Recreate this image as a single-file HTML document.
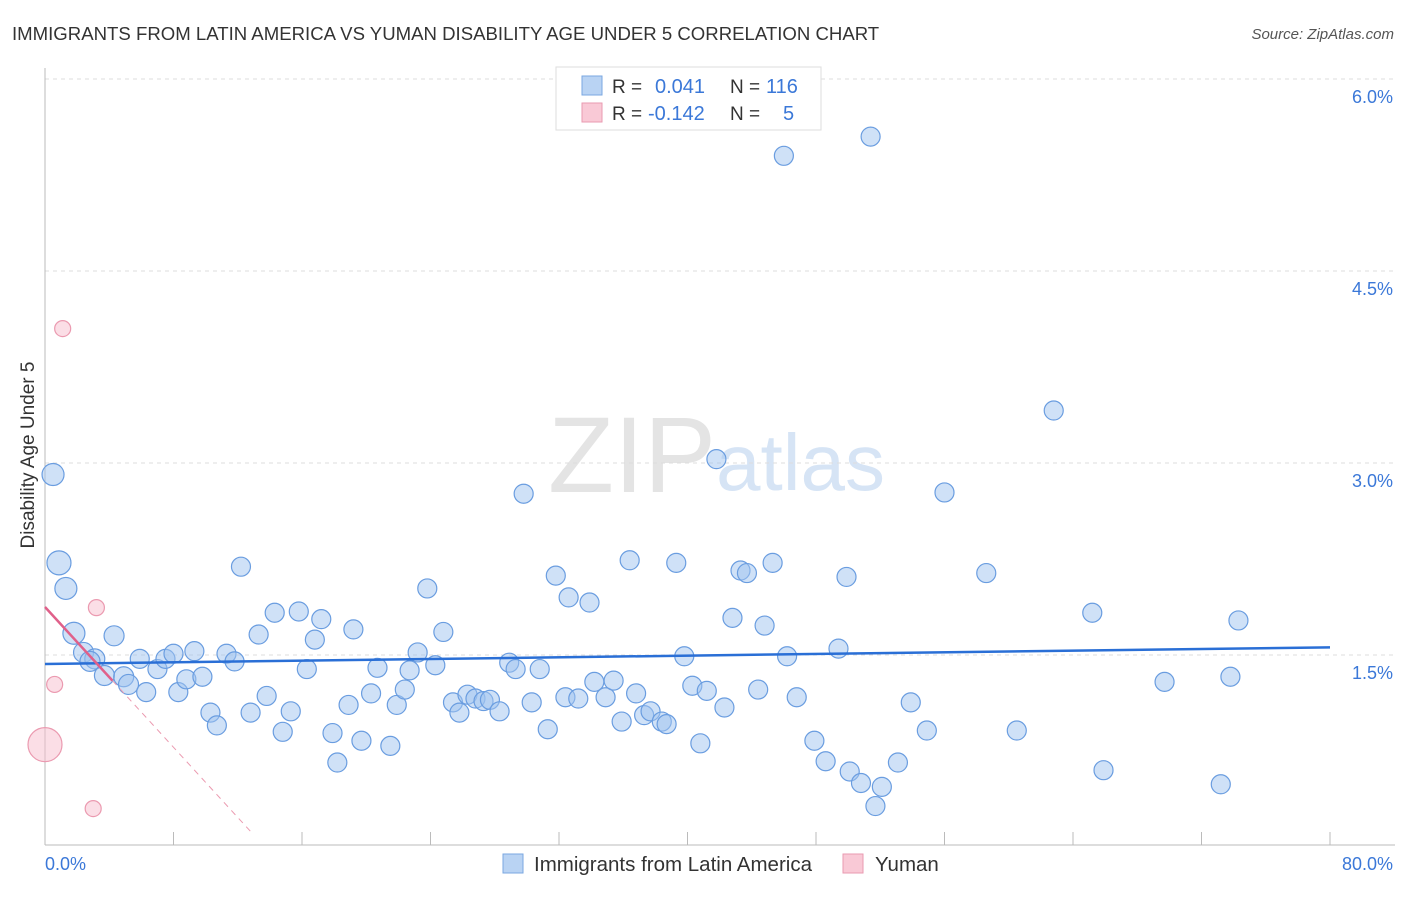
<!DOCTYPE html>
<html><head><meta charset="utf-8"><style>
body{margin:0;background:#fff;font-family:"Liberation Sans",sans-serif;}
svg text{font-family:"Liberation Sans",sans-serif;}
</style></head><body>
<svg width="1406" height="892" xmlns="http://www.w3.org/2000/svg" id="chart">
<text x="12" y="40" font-size="18.6" fill="#333">IMMIGRANTS FROM LATIN AMERICA VS YUMAN DISABILITY AGE UNDER 5 CORRELATION CHART</text>
<text x="1394" y="39" font-size="15" fill="#555" font-style="italic" text-anchor="end">Source: ZipAtlas.com</text>
<text x="716" y="492" font-size="108" fill="#e4e4e4" text-anchor="end" font-family="Liberation Serif">ZIP</text>
<text x="716" y="490" font-size="80" fill="#d6e4f5">atlas</text>
<g id="grid"></g>
<g id="axes"></g>
<g id="marks"></g>
<text x="34" y="455" font-size="19" fill="#333" transform="rotate(-90 34 455)" text-anchor="middle">Disability Age Under 5</text>
<g>
<rect x="556" y="67" width="265" height="63" fill="#fff" stroke="#ddd"/>
<rect x="582" y="76" width="20" height="19" fill="#b9d3f3" stroke="#7aa7e0"/>
<rect x="582" y="103" width="20" height="19" fill="#f9c9d6" stroke="#e99ab0"/>
<text x="612" y="93" font-size="19" fill="#333">R =</text><text x="655" y="93" font-size="20" fill="#3b78d8">0.041</text>
<text x="730" y="93" font-size="19" fill="#333">N =</text><text x="766" y="93" font-size="20" fill="#3b78d8">116</text>
<text x="612" y="120" font-size="19" fill="#333">R =</text><text x="648" y="120" font-size="20" fill="#3b78d8">-0.142</text>
<text x="730" y="120" font-size="19" fill="#333">N =</text><text x="783" y="120" font-size="20" fill="#3b78d8">5</text>
</g>
<g>
<rect x="503" y="854" width="20" height="19" fill="#b9d3f3" stroke="#7aa7e0"/>
<text x="534" y="871" font-size="20.5" fill="#333">Immigrants from Latin America</text>
<rect x="843" y="854" width="20" height="19" fill="#f9c9d6" stroke="#e99ab0"/>
<text x="875" y="871" font-size="20.5" fill="#333">Yuman</text>
</g>
</svg>
<script>
const blueX=[0.5,0.87,1.3,1.8,2.4,3.1,2.8,3.7,4.3,4.9,5.2,5.9,6.3,7.0,7.5,8.0,8.3,8.8,9.3,9.8,10.3,10.7,11.3,11.8,12.2,12.8,13.3,13.8,14.3,14.8,15.3,15.8,16.3,16.8,17.2,17.9,18.2,18.9,19.2,19.7,20.3,20.7,21.5,21.9,22.4,22.7,23.2,23.8,24.3,24.8,25.4,25.8,26.3,26.8,27.3,27.7,28.3,28.9,29.3,29.8,30.3,30.8,31.3,31.8,32.4,32.6,33.2,33.9,34.2,34.9,35.4,35.9,36.4,36.8,37.3,37.7,38.4,38.7,39.3,39.8,40.3,40.8,41.2,41.8,42.3,42.8,43.3,43.7,44.4,44.8,45.3,46.0,46.2,46.8,47.9,48.6,49.4,49.9,50.1,50.8,51.4,51.7,52.1,53.1,53.9,54.9,56.0,58.6,60.5,62.8,65.2,65.9,69.7,73.2,73.8,74.3];
const blueY=[2.91,2.22,2.02,1.67,1.52,1.47,1.45,1.34,1.65,1.33,1.27,1.47,1.21,1.39,1.47,1.51,1.21,1.31,1.53,1.33,1.05,0.95,1.51,1.45,2.19,1.05,1.66,1.18,1.83,0.90,1.06,1.84,1.39,1.62,1.78,0.89,0.66,1.11,1.70,0.83,1.20,1.40,0.79,1.11,1.23,1.38,1.52,2.02,1.42,1.68,1.13,1.05,1.19,1.16,1.14,1.15,1.06,1.44,1.39,2.76,1.13,1.39,0.92,2.12,1.17,1.95,1.16,1.91,1.29,1.17,1.30,0.98,2.24,1.20,1.03,1.06,0.98,0.96,2.22,1.49,1.26,0.81,1.22,3.03,1.09,1.79,2.16,2.14,1.23,1.73,2.22,5.40,1.49,1.17,0.83,0.67,1.55,2.11,0.59,0.50,5.55,0.32,0.47,0.66,1.13,0.91,2.77,2.14,0.91,3.41,1.83,0.60,1.29,0.49,1.33,1.77];
const blueW=[11,12,11,11,10,10,10,10,10,10,10];
const pinkX=[1.1,3.2,0.6,0.0,3.0];
const pinkY=[4.05,1.87,1.27,0.80,0.30];
const pinkW=[8,8,8,17,8];
const blueFit=[1.43,1.56];
const pinkFit=[1.875,-0.137];
const yTicks=[1.5,3.0,4.5,6.0];
const xTickLabels=["0.0%","80.0%"];
const NS="http://www.w3.org/2000/svg";
const X0=45,X1=1330,YB=847;
const sx=v=>X0+v/80*(X1-X0);
const sy=v=>YB-v*128;
function mk(t,a,p){const e=document.createElementNS(NS,t);for(const k in a)e.setAttribute(k,a[k]);p.appendChild(e);return e;}
const grid=document.getElementById('grid'),axes=document.getElementById('axes'),marks=document.getElementById('marks');
yTicks.forEach(t=>{
 const l=mk('line',{x1:X0,x2:1395,y1:sy(t),y2:sy(t),stroke:'#ddd','stroke-dasharray':'4,4'},grid);
 
 
 const tx=mk('text',{x:1393,y:sy(t)+24,'font-size':18,fill:'#3b78d8','text-anchor':'end'},grid);
 tx.textContent=t.toFixed(1)+'%';
 
 
});
const ya=mk('line',{x1:X0,x2:X0,y1:68,y2:845,stroke:'#bbb'},axes);


const xa=mk('line',{x1:X0,x2:1395,y1:845,y2:845,stroke:'#bbb'},axes);


for(let i=0;i<=10;i++){const t=mk('line',{x1:sx(i*8),x2:sx(i*8),y1:832,y2:845,stroke:'#bbb'},axes);
 
 }
[[xTickLabels[0],45,'start'],[xTickLabels[1],1393,'end']].forEach(([s,x,a])=>{
 const t=mk('text',{x:x,y:870,'font-size':18,fill:'#3b78d8','text-anchor':a},axes);t.textContent=s;
 
 });
blueX.forEach((v,i)=>{
 const c=mk('circle',{cx:sx(v),cy:sy(blueY[i]),r:blueW[i]||9.5,fill:'rgba(160,196,240,0.5)',stroke:'#6a9de0','stroke-width':1.2},marks);
 
 
});
pinkX.forEach((v,i)=>{
 const c=mk('circle',{cx:sx(v),cy:sy(pinkY[i]),r:pinkW[i],fill:'rgba(248,190,205,0.5)',stroke:'#eb9ab0','stroke-width':1.2},marks);
 
 
});
const bl=mk('line',{x1:sx(0),x2:sx(80),y1:sy(blueFit[0]),y2:sy(blueFit[1]),stroke:'#2a6fd6','stroke-width':2.5},marks);


const pf=x=>pinkFit[0]+pinkFit[1]*x;
const pl=mk('line',{x1:sx(0),x2:sx(4.2),y1:sy(pf(0)),y2:sy(pf(4.2)),stroke:'#e0608a','stroke-width':2.5},marks);


const pd=mk('line',{x1:sx(4.2),x2:sx(12.9),y1:sy(pf(4.2)),y2:sy(pf(12.9)),stroke:'#eb9ab0','stroke-width':1,'stroke-dasharray':'6,5'},marks);


</script>
</body></html>
